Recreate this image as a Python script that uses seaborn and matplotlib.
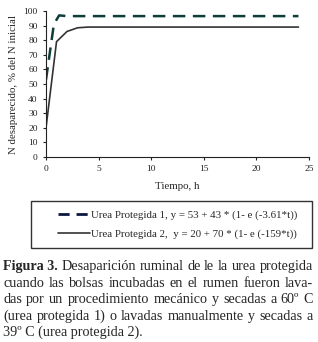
import matplotlib
matplotlib.use("Agg")
import matplotlib.pyplot as plt
import seaborn as sns
import pandas as pd
from matplotlib.patches import Rectangle
from matplotlib.lines import Line2D

# data
t1 = [0, 0.75, 1.25, 2, 3, 4, 6, 8, 12, 16, 20, 24]
y1 = [53, 91, 97, 96.5, 96.5, 96.5, 96.5, 96.5, 96.5, 96.5, 96.5, 96.5]
t2 = [0, 1, 2, 3, 4, 6, 8, 12, 16, 20, 24]
y2 = [20, 79, 86, 88.5, 89, 89, 89, 89, 89, 89, 89]
lab1 = "Urea Protegida 1, y = 53 + 43 * (1- e (-3.61*t))"
lab2 = "Urea Protegida 2,  y = 20 + 70 * (1- e (-159*t))"
xticks = [0, 5, 10, 15, 20, 25]
yticks = list(range(0, 101, 10))

caption = [
    ("Desaparición ruminal de le la urea protegida", True),
    ("cuando las bolsas incubadas en el rumen fueron lava-", True),
    ("das por un procedimiento mecánico y secadas a  60º C", True),
    ("(urea protegida 1) o lavadas manualmente y secadas a", True),
    ("39º C (urea protegida 2).", False),
]

sns.set_style("ticks")
plt.rcParams['font.family'] = ['Liberation Serif', 'DejaVu Serif']

fig = plt.figure(figsize=(3.18, 3.42), dpi=100)
ax = fig.add_axes([46/318, 1-157/342, 263/318, 146/342])

d1 = pd.DataFrame({"t": t1, "y": y1})
d2 = pd.DataFrame({"t": t2, "y": y2})
sns.lineplot(data=d1, x="t", y="y", ax=ax, color="#0f3d3a", lw=1.8,
             linestyle=(0, (5, 3)))
sns.lineplot(data=d2, x="t", y="y", ax=ax, color="#333333", lw=1.2)

ax.set_xlim(0, 25)
ax.set_ylim(0, 100)
ax.set_xticks(xticks)
ax.set_yticks(yticks)
ax.tick_params(labelsize=6.8, length=2.5, width=0.8, colors="#222222")
ax.set_xlabel("Tiempo, h", fontsize=7.8, labelpad=6)
ax.set_ylabel("N desaparecido, % del N inicial", fontsize=7.8, labelpad=4)
for s in ["top", "right"]:
    ax.spines[s].set_visible(False)
for s in ["left", "bottom"]:
    ax.spines[s].set_linewidth(0.8)
    ax.spines[s].set_color("#222222")

handles = [Line2D([], [], color="#0a1840", lw=2.0, linestyle=(0, (4, 2.5))),
           Line2D([], [], color="#333333", lw=1.2)]
fig.add_artist(Rectangle((31/318, 1-248/342), 281/318, 47/342,
                         transform=fig.transFigure, fill=False,
                         edgecolor="#333333", lw=1.0))
fig.legend(handles, [lab1, lab2], loc="upper left",
           bbox_to_anchor=(48/318, 1-200/342), frameon=False,
           fontsize=7.8, handlelength=3.0, handletextpad=0.1, labelspacing=0.9)

# caption, justified by hand
fig.canvas.draw()
r = fig.canvas.get_renderer()
x0, x1 = 3/318, 313/318
ys = [270, 287, 303, 320, 336]
fs = 10.2
for i, ((line, just), yy) in enumerate(zip(caption, ys)):
    y = 1 - yy/342
    start = x0
    if i == 0:
        tb = fig.text(x0, y, "Figura 3. ", fontsize=fs, fontweight="bold", va="baseline")
        bb = tb.get_window_extent(r)
        start = x0 + bb.width/318
    words = line.split()
    if not just:
        fig.text(start, y, line, fontsize=fs, va="baseline")
        continue
    arts = [fig.text(0, y, w, fontsize=fs, va="baseline") for w in words]
    widths = [a.get_window_extent(r).width/318 for a in arts]
    gap = (x1 - start - sum(widths)) / (len(words) - 1)
    x = start
    for a, w in zip(arts, widths):
        a.set_x(x)
        x += w + gap

fig.savefig("out.png", dpi=100)
